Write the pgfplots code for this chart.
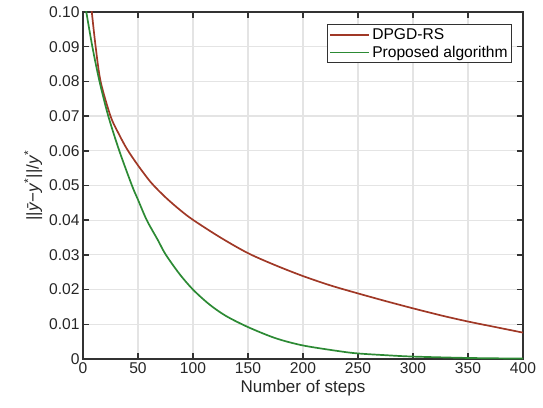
\documentclass[border=0pt]{standalone}
\usepackage{fontspec}
\setmainfont{Liberation Sans}
\usepackage{pgfplots}
\pgfplotsset{compat=1.18}
\definecolor{cRed}{RGB}{160,56,38}
\definecolor{cGreen}{RGB}{44,138,52}
\definecolor{cAxis}{RGB}{50,50,50}
\definecolor{cGrid}{RGB}{228,228,228}

\pgfplotsset{
  chartbox/.style={
    scale only axis, width=440pt, height=347pt,
    xmin=0, xmax=400, ymin=0, ymax=0.1,
    xtick={0,50,...,400},
    ytick={0,0.01,0.02,0.03,0.04,0.05,0.06,0.07,0.08,0.09,0.1},
  },
}

\begin{document}
\begin{tikzpicture}
% grid only, drawn first so ticks and curves sit on top of it
\begin{axis}[chartbox, grid=major, grid style={cGrid, line width=1.2pt},
  xticklabels={}, yticklabels={}, major tick length=0pt, axis line style={draw=none}]
\end{axis}
\begin{axis}[
  chartbox,
  yticklabels={0,0.01,0.02,0.03,0.04,0.05,0.06,0.07,0.08,0.09,0.10},
  /pgf/number format/assume math mode=true,
  tick label style={font=\fontsize{15.6}{18}\selectfont, text=black!85},
  label style={font=\fontsize{17}{20}\selectfont, text=black!85},
  xlabel={Number of steps},
  ylabel={||\textit{ȳ}−\textit{y}\textsuperscript{*}||/\textit{y}\textsuperscript{*}},
  xtick align=inside, ytick align=inside, major tick length=6pt,
  every tick/.append style={cAxis, line width=1.5pt},
  axis line style={cAxis, line width=1.4pt},
  legend style={at={(0.975,0.965)}, anchor=north east, draw=cAxis, line width=0.9pt,
    font=\fontsize{15.6}{19}\selectfont, inner sep=2pt, row sep=1pt},
  legend cell align=left,
  legend image code/.code={\draw[#1, line width=1.7pt] (0pt,0pt) -- (39pt,0pt);},
]
\addplot[cRed, line width=1.7pt, smooth, tension=0.5] coordinates {
  (7,0.1035) (8,0.100) (11.5,0.090) (16,0.080) (25,0.070) (32,0.0652)
  (40,0.0605) (50,0.0558) (62,0.0508) (75,0.0466) (88,0.0430) (100,0.0401)
  (125,0.0350) (150,0.0305) (175,0.0270) (200,0.0239) (225,0.0212) (250,0.0189)
  (275,0.0167) (300,0.0146) (325,0.0126) (350,0.0108) (375,0.0092) (400,0.0076)};
\addlegendentry{DPGD-RS}
\addplot[cGreen, line width=1.7pt, smooth, tension=0.5] coordinates {
  (1,0.1035) (3,0.100) (8.5,0.090) (15,0.080) (23,0.070) (33,0.060)
  (44.5,0.050) (50,0.0459) (58,0.0400) (68,0.0343) (75,0.0302) (87.5,0.0246)
  (100,0.0200) (115,0.0157) (130,0.0124) (150,0.0092) (175,0.0060) (200,0.0039)
  (234,0.0022) (250,0.0016) (275,0.0011) (300,0.0007) (350,0.0003) (400,0.00012)};
\addlegendentry{Proposed algorithm}
\end{axis}
\path (current axis.south west) +(-83pt,-48pt) coordinate (bl);
\path (current axis.north east) +(20pt,12pt) coordinate (tr);
\pgfresetboundingbox
\useasboundingbox (bl) rectangle (tr);
\end{tikzpicture}
\end{document}
